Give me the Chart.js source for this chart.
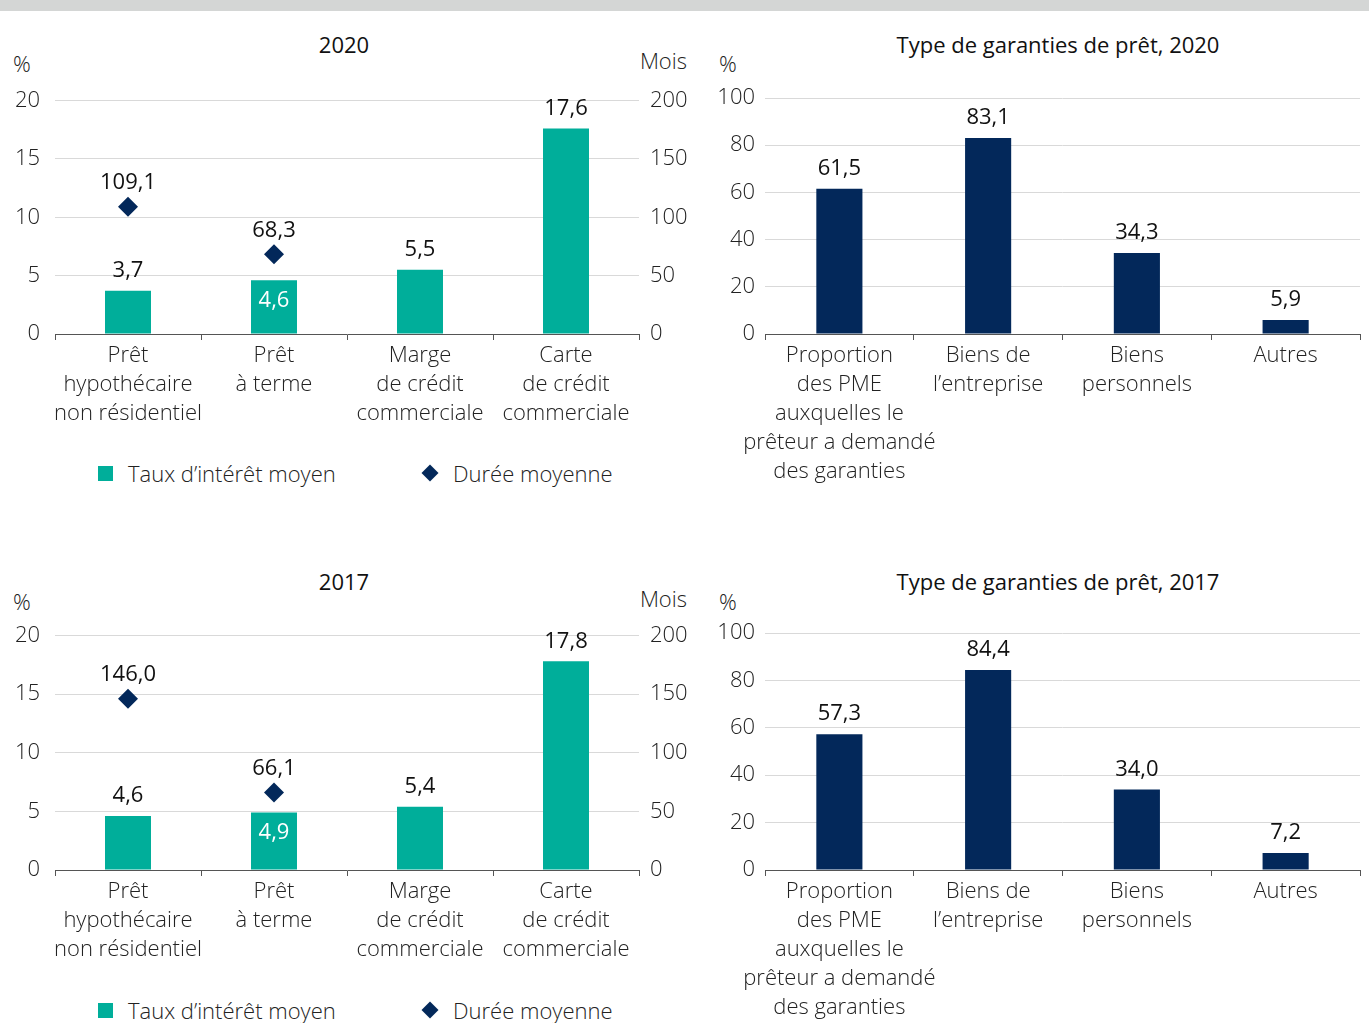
<!DOCTYPE html>
<html>
<head>
<meta charset="utf-8">
<script src="https://cdn.jsdelivr.net/npm/chart.js@4.4.1/dist/chart.umd.min.js"></script>
<style>
  body { margin: 0; width: 1369px; height: 1023px; position: relative; overflow: hidden; background: #fff;
         font-family: 'Open Sans', sans-serif; font-weight: 300; color: #222; }
  .topband { position: absolute; left: 0; top: 0; width: 1369px; height: 11px; background: #d4d6d5; }
  .t { position: absolute; font-size: 22px; height: 30px; line-height: 30px; white-space: nowrap; }
  .title { font-weight: 400; color: #111; text-align: center; }
  canvas { position: absolute; }
  .sq { position: absolute; width: 15px; height: 15px; background: #00ae9a; }
  .dia { position: absolute; width: 12px; height: 12px; background: #03285a; transform: rotate(45deg); }
</style>
</head>
<body>
<div class="topband"></div>

<div class="t title" style="left:244px;top:29px;width:200px">2020</div>
<div class="t" style="left:13px;top:48px">%</div>
<div class="t" style="left:587px;top:45px;width:100px;text-align:right">Mois</div>
<canvas id="rates2020" width="700" height="373" style="left:0;top:71px"></canvas>
<div class="sq" style="left:98px;top:466px"></div>
<div class="t" style="left:128px;top:458px">Taux d’intérêt moyen</div>
<div class="dia" style="left:424px;top:467px"></div>
<div class="t" style="left:453px;top:458px">Durée moyenne</div>

<div class="t title" style="left:858px;top:29px;width:400px">Type de garanties de prêt, 2020</div>
<div class="t" style="left:719px;top:48px">%</div>
<canvas id="collat2020" width="669" height="423" style="left:700px;top:71px"></canvas>

<div class="t title" style="left:244px;top:566px;width:200px">2017</div>
<div class="t" style="left:13px;top:586px">%</div>
<div class="t" style="left:587px;top:583px;width:100px;text-align:right">Mois</div>
<canvas id="rates2017" width="700" height="374" style="left:0;top:606px"></canvas>
<div class="sq" style="left:98px;top:1003px"></div>
<div class="t" style="left:128px;top:995px">Taux d’intérêt moyen</div>
<div class="dia" style="left:424px;top:1004px"></div>
<div class="t" style="left:453px;top:995px">Durée moyenne</div>

<div class="t title" style="left:858px;top:566px;width:400px">Type de garanties de prêt, 2017</div>
<div class="t" style="left:719px;top:586px">%</div>
<canvas id="collat2017" width="669" height="424" style="left:700px;top:606px"></canvas>

<script>
// data
const loanTypes = [
  ['Prêt', 'hypothécaire', 'non résidentiel'],
  ['Prêt', 'à terme'],
  ['Marge', 'de crédit', 'commerciale'],
  ['Carte', 'de crédit', 'commerciale']
];
const rate2020 = [3.7, 4.6, 5.5, 17.6];
const duration2020 = [109.1, 68.3, null, null];
const rate2017 = [4.6, 4.9, 5.4, 17.8];
const duration2017 = [146.0, 66.1, null, null];

const collateralTypes = [
  ['Proportion', 'des PME', 'auxquelles le', 'prêteur a demandé', 'des garanties'],
  ['Biens de', 'l’entreprise'],
  ['Biens', 'personnels'],
  ['Autres']
];
const collateral2020 = [61.5, 83.1, 34.3, 5.9];
const collateral2017 = [57.3, 84.4, 34.0, 7.2];

const rateAxis = { min: 0, max: 20, step: 5 };
const monthAxis = { min: 0, max: 200, step: 50 };
const pctAxis = { min: 0, max: 100, step: 20 };

const TEAL = '#00ae9a';
const NAVY = '#03285a';
const tickFont = { family: "'Open Sans'", size: 22, weight: 300, lineHeight: 29 / 22 };

const fmt = v => v.toFixed(1).replace('.', ',');

// values above bars / diamonds
const valueLabels = {
  id: 'valueLabels',
  afterDatasetsDraw(chart) {
    const ctx = chart.ctx;
    chart.data.datasets.forEach((ds, i) => {
      const meta = chart.getDatasetMeta(i);
      meta.data.forEach((el, j) => {
        const v = ds.data[j];
        if (v == null) return;
        const inside = (ds.insideLabels || []).includes(j);
        ctx.save();
        ctx.font = "400 22px 'Open Sans'";
        ctx.textAlign = 'center';
        ctx.textBaseline = 'middle';
        ctx.fillStyle = inside ? '#ffffff' : '#111';
        let y = inside ? el.y + 20 : el.y - (ds.type === 'line' ? 24 : 20);
        ctx.fillText(fmt(v), el.x, y);
        ctx.restore();
      });
    });
  }
};

function xScale(h) {
  return {
    offset: true,
    grid: { offset: true, drawOnChartArea: false, tickLength: 6, color: '#555' },
    border: { color: '#555' },
    ticks: { padding: 1, color: '#222', font: tickFont, maxRotation: 0, autoSkip: false },
    afterFit(s) { s.height = h; }
  };
}

function yScale(pos, ax, w, pad, grid) {
  return {
    position: pos,
    min: ax.min, max: ax.max,
    ticks: { stepSize: ax.step, padding: pad, color: '#222', font: tickFont },
    grid: grid
      ? { drawTicks: false, color: c => c.tick && c.tick.value === 0 ? 'rgba(0,0,0,0)' : '#d9d9d9' }
      : { display: false, drawTicks: false },
    border: { display: false },
    afterFit(s) { s.width = w; }
  };
}

function makeRates(id, rates, durations, inside) {
  new Chart(document.getElementById(id), {
    type: 'bar',
    data: {
      labels: loanTypes,
      datasets: [
        {
          type: 'line', label: 'Durée moyenne', data: durations, yAxisID: 'y1',
          showLine: false, pointStyle: 'rectRot', pointRadius: 10, pointHoverRadius: 10,
          pointBackgroundColor: NAVY, pointBorderColor: NAVY, pointBorderWidth: 0, order: 0
        },
        {
          type: 'bar', label: 'Taux d’intérêt moyen', data: rates, yAxisID: 'y',
          backgroundColor: TEAL, barPercentage: 0.315, categoryPercentage: 1,
          insideLabels: inside, order: 1
        }
      ]
    },
    options: {
      responsive: false, animation: false,
      layout: { padding: { top: 27, left: 0, right: 0, bottom: 0 } },
      plugins: { legend: { display: false }, tooltip: { enabled: false } },
      scales: {
        x: xScale(110),
        y: yScale('left', rateAxis, 55, 15, true),
        y1: yScale('right', monthAxis, 61, 11, false)
      }
    },
    plugins: [valueLabels]
  });
}

function makeCollateral(id, values) {
  new Chart(document.getElementById(id), {
    type: 'bar',
    data: {
      labels: collateralTypes,
      datasets: [{
        label: 'Garanties', data: values, backgroundColor: NAVY,
        barPercentage: 0.31, categoryPercentage: 1
      }]
    },
    options: {
      responsive: false, animation: false,
      layout: { padding: { top: 27, left: 0, right: 9, bottom: 0 } },
      plugins: { legend: { display: false }, tooltip: { enabled: false } },
      scales: {
        x: xScale(160),
        y: yScale('left', pctAxis, 65, 10, true)
      }
    },
    plugins: [valueLabels]
  });
}

makeRates('rates2020', rate2020, duration2020, [1]);
makeRates('rates2017', rate2017, duration2017, [1]);
makeCollateral('collat2020', collateral2020);
makeCollateral('collat2017', collateral2017);
</script>
</body>
</html>
